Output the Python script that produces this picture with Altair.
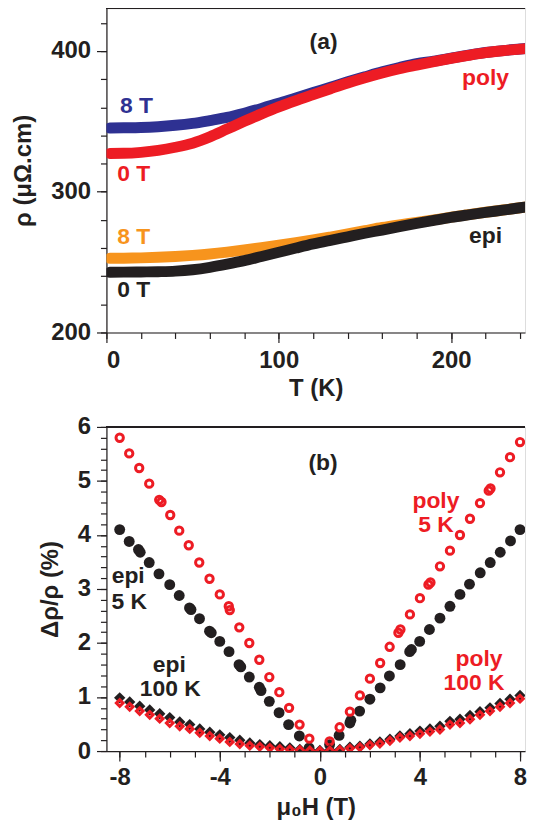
import altair as alt
import pandas as pd

# ---------------- data: panel (a) ----------------
T_K = [2, 10, 20, 30, 40, 50, 60, 70, 80, 90, 100, 110, 120, 130, 140, 150,
       160, 170, 180, 190, 200, 210, 220, 230, 240, 250]
rho_poly_8T = [345.3, 345.4, 345.6, 346.2, 347.2, 348.6, 350.6, 352.8, 355.8, 359.2,
               362.8, 366.7, 370.5, 374.3, 378.1, 381.7, 385.2, 388.3, 391.1, 392.8,
               395.0, 397.1, 398.9, 400.3, 401.4, 402.5]
rho_poly_0T = [327.2, 327.3, 328.0, 329.4, 331.6, 334.5, 339.0, 344.5, 350.0, 355.3,
               360.3, 364.8, 369.0, 373.2, 377.3, 381.0, 384.4, 387.4, 390.0, 392.5,
               394.8, 396.9, 398.8, 400.2, 401.3, 402.4]
rho_epi_8T = [252.7, 252.8, 253.0, 253.4, 254.0, 254.8, 255.8, 257.1, 258.6, 260.3,
              262.0, 263.8, 265.7, 267.8, 270.0, 272.3, 274.6, 276.5, 278.2, 280.0,
              281.9, 283.7, 285.4, 287.0, 288.6, 290.0]
rho_epi_0T = [242.8, 242.9, 243.0, 243.2, 243.6, 244.6, 246.3, 248.5, 251.0, 254.0,
              257.0, 260.0, 262.9, 265.5, 268.0, 270.5, 272.8, 275.2, 277.5, 279.7,
              281.8, 283.6, 285.3, 286.9, 288.6, 290.2]

# ---------------- data: panel (b) ----------------
H_poly5 = [-8.0, -7.62, -7.22, -6.82, -6.42, -6.33, -5.98, -5.62, -5.24, -4.82, -4.41,
           -4.0, -3.64, -3.6, -3.22, -2.82, -2.42, -2.02, -1.62, -1.23, -0.81, -0.42,
           0.39, 0.79, 1.2, 1.6, 2.0, 2.41, 2.79, 3.14, 3.22, 3.6, 4.0, 4.34, 4.42,
           4.8, 5.2, 5.6, 6.0, 6.4, 6.75, 6.82, 7.2, 7.6, 8.0]
MR_poly5 = [5.80, 5.51, 5.24, 4.95, 4.65, 4.61, 4.37, 4.08, 3.81, 3.49, 3.19,
            2.90, 2.68, 2.61, 2.29, 2.00, 1.69, 1.37, 1.09, 0.80, 0.49, 0.23,
            0.18, 0.44, 0.73, 1.03, 1.34, 1.63, 1.93, 2.19, 2.25, 2.53, 2.83, 3.08, 3.12,
            3.42, 3.71, 4.00, 4.30, 4.59, 4.82, 4.86, 5.16, 5.44, 5.72]

H_epi5 = [-8.0, -7.62, -7.25, -7.18, -6.82, -6.43, -6.0, -5.62, -5.21, -5.15, -4.81,
          -4.41, -4.34, -4.0, -3.63, -3.23, -3.16, -2.82, -2.42, -2.35, -2.02, -1.63,
          -1.25, -0.82, -0.43, 0.39, 0.77, 1.2, 1.24, 1.59, 2.0, 2.41, 2.78, 3.21,
          3.59, 3.66, 3.99, 4.38, 4.8, 5.2, 5.6, 5.98, 6.41, 6.81, 7.21, 7.62, 8.0]
MR_epi5 = [4.10, 3.88, 3.73, 3.68, 3.49, 3.28, 3.08, 2.88, 2.65, 2.62, 2.45,
           2.22, 2.19, 2.03, 1.84, 1.60, 1.56, 1.37, 1.18, 1.12, 0.92, 0.71,
           0.49, 0.28, 0.06, 0.12, 0.29, 0.52, 0.57, 0.74, 0.96, 1.17, 1.39, 1.60,
           1.84, 1.88, 2.03, 2.25, 2.46, 2.68, 2.90, 3.09, 3.30, 3.49, 3.68, 3.89, 4.10]

H_100 = [-8.0, -7.6, -7.2, -6.8, -6.4, -6.0, -5.6, -5.2, -4.8, -4.4, -4.0, -3.6, -3.2,
         -2.8, -2.4, -2.0, -1.6, -1.2, -0.8, -0.4, 0.0, 0.4, 0.8, 1.2, 1.6, 2.0, 2.4,
         2.8, 3.2, 3.6, 4.0, 4.4, 4.8, 5.2, 5.6, 6.0, 6.4, 6.8, 7.2, 7.6, 8.0]
MR_epi100 = [0.985, 0.91, 0.83, 0.76, 0.69, 0.62, 0.54, 0.49, 0.41, 0.35, 0.30, 0.25, 0.20,
             0.15, 0.12, 0.10, 0.08, 0.06, 0.03, 0.02, 0.01, 0.02, 0.03, 0.07, 0.09, 0.13, 0.17,
             0.22, 0.28, 0.32, 0.37, 0.41, 0.46, 0.55, 0.59, 0.66, 0.73, 0.80, 0.88, 0.96, 1.03]
MR_poly100 = [0.89, 0.82, 0.74, 0.67, 0.60, 0.52, 0.46, 0.41, 0.34, 0.28, 0.23, 0.17, 0.13,
              0.10, 0.08, 0.06, 0.04, 0.03, 0.02, 0.01, 0.00, 0.01, 0.02, 0.05, 0.07, 0.11, 0.14,
              0.19, 0.25, 0.28, 0.32, 0.36, 0.40, 0.49, 0.52, 0.59, 0.67, 0.74, 0.82, 0.89, 0.97]

# ---------------- annotations ----------------
ann_a_text = ["(a)", "8 T", "0 T", "poly", "8 T", "0 T", "epi"]
ann_a_x = [126, 17.4, 15.8, 220, 15.8, 15.8, 220]
ann_a_y = [406.6, 361, 312.5, 381, 268, 229.8, 268.8]
ann_a_col = ["#231F20", "#2E3192", "#ED1C24", "#ED1C24", "#F7941D", "#231F20", "#231F20"]

ann_b_text = ["(b)", "poly", "5 K", "epi", "5 K", "epi", "100 K", "poly", "100 K"]
ann_b_x = [0.13, 4.64, 4.64, -7.66, -7.62, -6.02, -5.98, 6.36, 6.16]
ann_b_y = [5.33, 4.63, 4.19, 3.24, 2.76, 1.60, 1.14, 1.71, 1.26]
ann_b_col = ["#231F20", "#ED1C24", "#ED1C24", "#231F20", "#231F20", "#231F20", "#231F20",
             "#ED1C24", "#ED1C24"]

# ---------------- style ----------------
FONT = "Liberation Sans"
INK = "#231F20"
RED = "#ED1C24"
BLUE = "#2E3192"
ORANGE = "#F7941D"
W = 421
H1 = 326
H2 = 326
FS = 24


def major_axis(values, title, orient, label_pad, title_pad):
    return alt.Axis(values=values, orient=orient, title=title, grid=False,
                    tickSize=10, tickColor=INK, tickWidth=1.2,
                    domainColor=INK, domainWidth=1.2,
                    labelFont=FONT, labelFontSize=FS, labelFontWeight="bold",
                    labelColor=INK, labelPadding=label_pad, labelExpr="datum.value + ''",
                    titleFont=FONT, titleFontSize=FS, titleFontWeight="bold",
                    titleColor=INK, titlePadding=title_pad)


def minor_axis(values, orient):
    return alt.Axis(values=values, orient=orient, title=None, grid=False,
                    labels=False, domain=False, tickSize=6, tickColor=INK,
                    tickWidth=1.2)


# ---------------- panel (a) ----------------
df_a = pd.DataFrame({"T": T_K, "p8": rho_poly_8T, "p0": rho_poly_0T,
                     "e8": rho_epi_8T, "e0": rho_epi_0T})
xs_a = alt.Scale(domain=[0, 242.9], nice=False, zero=False)
ys_a = alt.Scale(domain=[200, 430.3], nice=False, zero=False)


def curve(col, color, xaxis=None, yaxis=None):
    return alt.Chart(df_a).mark_line(color=color, strokeWidth=11, strokeCap="round",
                                     interpolate="monotone", clip=True).encode(
        x=alt.X("T:Q", scale=xs_a, axis=xaxis),
        y=alt.Y(f"{col}:Q", scale=ys_a, axis=yaxis),
    )


a_blue = curve("p8", BLUE,
               major_axis([0, 100, 200], "T (K)", "bottom", 6, 4),
               major_axis([200, 300, 400], "ρ (μΩ.cm)", "left", 6, 15))
a_red = curve("p0", RED,
              minor_axis(list(range(0, 241, 20)), "bottom"),
              minor_axis(list(range(200, 421, 20)), "left"))
a_orange = curve("e8", ORANGE)
a_black = curve("e0", INK)

ann_a = pd.DataFrame({"x": ann_a_x, "y": ann_a_y, "t": ann_a_text, "c": ann_a_col})
a_text = alt.Chart(ann_a).mark_text(font=FONT, fontSize=23, fontWeight="bold",
                                    align="center", baseline="middle").encode(
    x=alt.X("x:Q", scale=xs_a, axis=None),
    y=alt.Y("y:Q", scale=ys_a, axis=None),
    text="t:N",
    color=alt.Color("c:N", scale=None),
)
a_top = alt.Chart(ann_a).mark_rule(color=INK, strokeWidth=1.2).encode(
    x=alt.value(0), x2=alt.value(W), y=alt.value(0))

panel_a = alt.layer(a_blue, a_red, a_orange, a_black, a_text, a_top).resolve_axis(
    x="independent", y="independent").properties(width=W, height=H1)

# ---------------- panel (b) ----------------
xs_b = alt.Scale(domain=[-8.53, 8.2], nice=False, zero=False)
ys_b = alt.Scale(domain=[0, 6], nice=False, zero=False)

df_p5 = pd.DataFrame({"H": H_poly5, "MR": MR_poly5})
df_e5 = pd.DataFrame({"H": H_epi5, "MR": MR_epi5})
df_100 = pd.DataFrame({"H": H_100, "e": MR_epi100, "p": MR_poly100})

b_e5 = alt.Chart(df_e5).mark_circle(size=120, color=INK, opacity=1, clip=True).encode(
    x=alt.X("H:Q", scale=xs_b, axis=minor_axis(list(range(-8, 9)), "bottom")),
    y=alt.Y("MR:Q", scale=ys_b,
            axis=minor_axis([round(i * 0.2, 1) for i in range(31)], "left")),
)
b_p5 = alt.Chart(df_p5).mark_point(shape="circle", filled=False, size=55, strokeWidth=3,
                                   color=RED, opacity=1, clip=True).encode(
    x=alt.X("H:Q", scale=xs_b,
            axis=major_axis([-8, -4, 0, 4, 8], "μ₀H (T)", "bottom", 5, 6)),
    y=alt.Y("MR:Q", scale=ys_b,
            axis=major_axis([0, 1, 2, 3, 4, 5, 6], "Δρ/ρ (%)", "left", 6, 15)),
)
b_e100 = alt.Chart(df_100).mark_point(shape="diamond", filled=True, size=130, color=INK,
                                      opacity=1, clip=True).encode(
    x=alt.X("H:Q", scale=xs_b, axis=None),
    y=alt.Y("e:Q", scale=ys_b, axis=None),
)
b_p100 = alt.Chart(df_100).mark_point(shape="diamond", filled=False, size=45, strokeWidth=3,
                                      color=RED, opacity=1, clip=True).encode(
    x=alt.X("H:Q", scale=xs_b, axis=None),
    y=alt.Y("p:Q", scale=ys_b, axis=None),
)
ann_b = pd.DataFrame({"x": ann_b_x, "y": ann_b_y, "t": ann_b_text, "c": ann_b_col})
b_text = alt.Chart(ann_b).mark_text(font=FONT, fontSize=23, fontWeight="bold",
                                    align="center", baseline="middle").encode(
    x=alt.X("x:Q", scale=xs_b, axis=None),
    y=alt.Y("y:Q", scale=ys_b, axis=None),
    text="t:N",
    color=alt.Color("c:N", scale=None),
)
b_top = alt.Chart(ann_b).mark_rule(color=INK, strokeWidth=1.2).encode(
    x=alt.value(0), x2=alt.value(W), y=alt.value(0))

panel_b = alt.layer(b_e5, b_p5, b_e100, b_p100, b_text, b_top).resolve_axis(
    x="independent", y="independent").properties(width=W, height=H2)

chart = alt.vconcat(panel_a, panel_b, spacing=13).properties(
    padding={"left": 3, "top": -4, "right": 0, "bottom": 0}
).configure_view(stroke=None).configure(background="white")

chart.save("out.html", embed_options={"renderer": "svg", "actions": False})
